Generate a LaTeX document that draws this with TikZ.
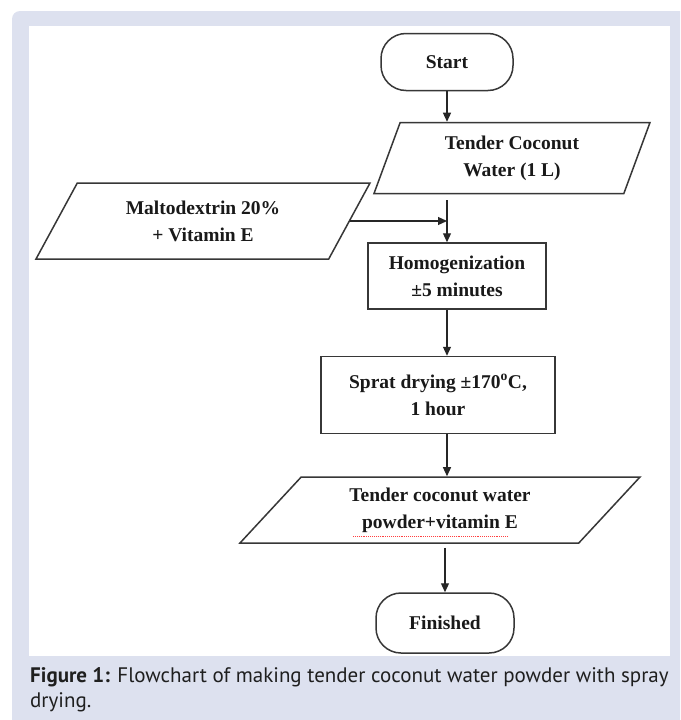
\documentclass[tikz,border=0pt]{standalone}
\usepackage{fontspec}
\setmainfont{Liberation Serif}
\newfontfamily\capfont{PT Sans}
\usetikzlibrary{arrows.meta}
\usetikzlibrary{shapes.geometric}
\definecolor{panelbg}{RGB}{221,225,239}
\definecolor{edgegray}{RGB}{55,55,55}

\tikzset{
  label/.style={font=\fontsize{19.5}{27}\selectfont\bfseries, align=center, text=black!90},
  terminal/.style={label, draw=edgegray, line width=1.5pt, rounded corners=25pt},
  procbox/.style={label, draw=edgegray, line width=1.5pt},
  iobox/.style={label, draw=edgegray, line width=1.5pt, trapezium,
    trapezium stretches body, trapezium left angle=#1, trapezium right angle=180-#1},
  flowarrow/.style={-{Triangle[length=9pt,width=8pt]}, line width=1.2pt, black!85}
}

\begin{document}
\begin{tikzpicture}[x=1pt, y=-1pt]
  \useasboundingbox (0,0) rectangle (680,720);
  % page background and figure panel
  \begin{scope}
    \clip (0,0) rectangle (680,720);
    \fill[panelbg, rounded corners=8pt] (12,11) rectangle (700,740);
  \end{scope}
  \fill[white] (29,26) rectangle (670,656);

  % flowchart
  \node [terminal, minimum width=132pt, minimum height=57pt] (start) at (447, 62) {Start};
  \node [iobox=63, minimum width=276pt, minimum height=71pt] (tcw) at (512, 158) {Tender Coconut\\Water (1 L)};
  \node [iobox=49, minimum width=334pt, minimum height=76pt] (malto) at (203, 221) {Maltodextrin 20\%\\+ Vitamin E};
  \node [procbox, minimum width=178pt, minimum height=66pt] (homog) at (457, 276) {Homogenization\\±5 minutes};
  \node [procbox, minimum width=234pt, minimum height=77pt] (sprat) at (438, 395) {Sprat drying ±170\textsuperscript{o}C,\\1 hour};
  \node [iobox=40, minimum width=400pt, minimum height=66pt] (powder) at (440, 510) {Tender coconut water\\powder+vitamin E};
  \node [terminal, minimum width=138pt, minimum height=60pt] (finish) at (445, 623) {Finished};

  % spell-check squiggle under the powder label
  \draw [red!75, densely dotted, line width=0.9pt]
    ([shift={(-87,26)}]powder.center) -- ([shift={(67,26)}]powder.center);

  % connectors
  \draw [flowarrow] (start) -- (start |- tcw.north);
  \draw [flowarrow, shorten <=6pt] (start |- tcw.south) -- (start |- homog.north);
  \draw [flowarrow] (malto.east) -- (malto.east -| start);
  \draw [flowarrow] (start |- homog.south) -- (start |- sprat.north);
  \draw [flowarrow] (start |- sprat.south) -- (start |- powder.north);
  \draw [flowarrow, shorten <=4pt] (finish |- powder.south) -- (finish);

  % caption
  \node [anchor=north west, align=left, inner sep=0pt, text=black!88,
    font=\capfont\fontsize{21}{25}\selectfont] (caption) at (30, 667)
    {\textbf{Figure 1:} Flowchart of making tender coconut water powder with spray\\drying.};
\end{tikzpicture}
\end{document}
